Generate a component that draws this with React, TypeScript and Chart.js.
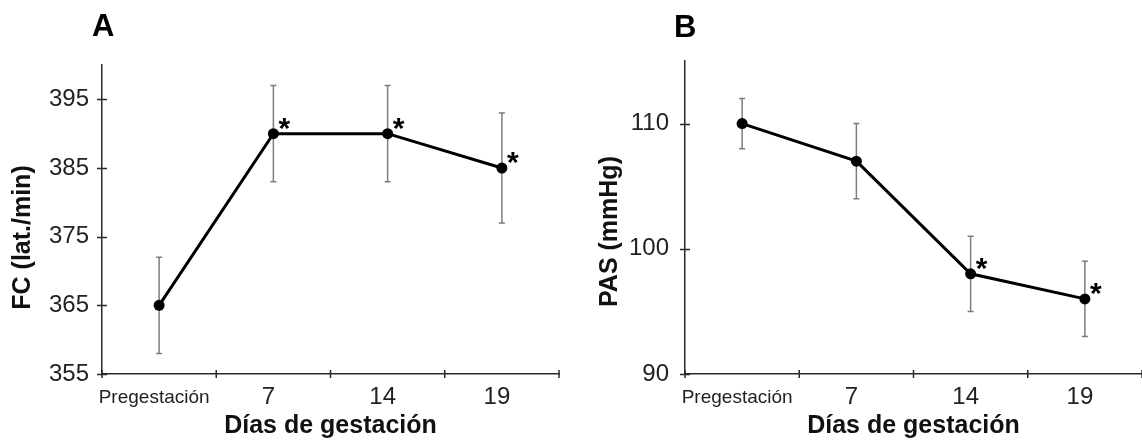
import React, { useEffect, useRef } from 'react';
import { Chart, registerables } from 'chart.js';

Chart.register(...registerables);

// ---- data ----
const categories = ['Pregestación', '7', '14', '19'];

const fcMean = [365, 390, 390, 385];
const fcErr = [7, 7, 7, 8];
const fcSig = [false, true, true, true];
const fcTicks = [355, 365, 375, 385, 395];

const pasMean = [110, 107, 98, 96];
const pasErr = [2, 3, 3, 3];
const pasSig = [false, false, true, true];
const pasTicks = [90, 100, 110];

const FONT = "'Liberation Sans', Arial, Helvetica, sans-serif";

function makeDecor(
  mean: number[],
  err: number[],
  sig: boolean[],
  yTitle: string,
  yTitleX: number,
  yTitleDy: number
) {
  return {
    id: 'decor',
    beforeDatasetsDraw(chart: any) {
      const { ctx } = chart;
      const xs = chart.scales.x;
      const ys = chart.scales.y;
      ctx.save();
      ctx.strokeStyle = '#7d7d7d';
      ctx.lineWidth = 1.5;
      mean.forEach((m, i) => {
        const px = xs.getPixelForValue(i);
        const top = ys.getPixelForValue(m + err[i]);
        const bot = ys.getPixelForValue(m - err[i]);
        ctx.beginPath();
        ctx.moveTo(px, top);
        ctx.lineTo(px, bot);
        ctx.moveTo(px - 3, top);
        ctx.lineTo(px + 3, top);
        ctx.moveTo(px - 3, bot);
        ctx.lineTo(px + 3, bot);
        ctx.stroke();
      });
      ctx.restore();
    },
    afterDraw(chart: any) {
      const { ctx, chartArea } = chart;
      const xs = chart.scales.x;
      const ys = chart.scales.y;
      ctx.save();
      // cross tick marks
      ctx.strokeStyle = '#2a2a2a';
      ctx.lineWidth = 1.5;
      ctx.beginPath();
      ys.ticks.forEach((t: any) => {
        const py = Math.round(ys.getPixelForValue(t.value)) + 0.5;
        ctx.moveTo(chartArea.left - 5, py);
        ctx.lineTo(chartArea.left + 5, py);
      });
      for (let i = 0; i <= categories.length; i++) {
        const px = xs.getPixelForValue(i - 0.5);
        ctx.moveTo(px, chartArea.bottom - 4);
        ctx.lineTo(px, chartArea.bottom + 4);
      }
      ctx.stroke();
      // significance asterisks
      ctx.fillStyle = '#000';
      ctx.font = `bold 30px ${FONT}`;
      ctx.textAlign = 'center';
      ctx.textBaseline = 'alphabetic';
      sig.forEach((s, i) => {
        if (!s) return;
        const px = xs.getPixelForValue(i);
        const py = ys.getPixelForValue(mean[i]);
        ctx.fillText('*', px + 11, py - 13 + 17);
      });
      // y-axis title
      ctx.fillStyle = '#111';
      ctx.font = `bold 25px ${FONT}`;
      ctx.textBaseline = 'middle';
      ctx.translate(yTitleX, (chartArea.top + chartArea.bottom) / 2 + yTitleDy);
      ctx.rotate(-Math.PI / 2);
      ctx.fillText(yTitle, 0, 0);
      ctx.restore();
    },
  };
}

type PanelProps = {
  left: number;
  width: number;
  mean: number[];
  err: number[];
  sig: boolean[];
  ticks: number[];
  min: number;
  max: number;
  yTitle: string;
  yWidth: number;
  yTitleX: number;
  yTitleDy: number;
  yTickPad: number;
  padTop: number;
  padRight: number;
};

function Panel(p: PanelProps) {
  const ref = useRef<HTMLCanvasElement | null>(null);
  useEffect(() => {
    if (!ref.current) return;
    const chart = new Chart(ref.current, {
      type: 'line',
      data: {
        labels: categories,
        datasets: [
          {
            data: p.mean,
            borderColor: '#000',
            borderWidth: 3,
            backgroundColor: '#000',
            pointBackgroundColor: '#000',
            pointBorderColor: '#000',
            pointBorderWidth: 0,
            pointRadius: 5.5,
            tension: 0,
          },
        ],
      },
      options: {
        animation: false,
        responsive: false,
        devicePixelRatio: 1,
        layout: {
          autoPadding: false,
          padding: { top: p.padTop, right: p.padRight, left: 0, bottom: 0 },
        },
        plugins: { legend: { display: false }, tooltip: { enabled: false } },
        scales: {
          x: {
            type: 'category',
            offset: true,
            grid: { display: false, drawTicks: false },
            border: { display: true, color: '#2a2a2a', width: 1.5 },
            ticks: {
              color: '#222',
              padding: 9,
              labelOffset: -5,
              maxRotation: 0,
              autoSkip: false,
              font: (ctx: any) =>
                ctx.index === 0
                  ? { family: FONT, size: 19, lineHeight: 1.55 }
                  : { family: FONT, size: 24, lineHeight: 1.2 },
            },
            title: {
              display: true,
              text: 'Días de gestación',
              color: '#111',
              font: { family: FONT, size: 25, weight: 'bold' },
              padding: { top: 0, bottom: 0 },
            },
            afterFit: (scale: any) => {
              scale.height = 67;
            },
          },
          y: {
            min: p.min,
            max: p.max,
            grid: { display: false, drawTicks: false },
            border: { display: true, color: '#2a2a2a', width: 1.5 },
            afterBuildTicks: (scale: any) => {
              scale.ticks = p.ticks.map((v) => ({ value: v }));
            },
            ticks: {
              color: '#222',
              padding: p.yTickPad,
              font: { family: FONT, size: 24 },
            },
            title: { display: false, text: p.yTitle },
            afterFit: (scale: any) => {
              scale.width = p.yWidth;
            },
          },
        },
      },
      plugins: [makeDecor(p.mean, p.err, p.sig, p.yTitle, p.yTitleX, p.yTitleDy)],
    } as any);
    return () => chart.destroy();
  }, []);
  return (
    <div style={{ position: 'absolute', left: p.left, top: 0, width: p.width, height: 441 }}>
      <canvas
        ref={ref}
        width={p.width}
        height={441}
        style={{ width: p.width, height: 441, display: 'block' }}
      />
    </div>
  );
}

const letterStyle: React.CSSProperties = {
  position: 'absolute',
  fontFamily: FONT,
  fontWeight: 'bold',
  fontSize: 31,
  lineHeight: '31px',
  color: '#000',
};

export default function App() {
  return (
    <div
      style={{
        position: 'absolute',
        left: 0,
        top: 0,
        width: 1142,
        height: 441,
        background: '#fff',
        overflow: 'hidden',
      }}
    >
      <Panel
        left={0}
        width={570}
        mean={fcMean}
        err={fcErr}
        sig={fcSig}
        ticks={fcTicks}
        min={355}
        max={400}
        yTitle="FC (lat./min)"
        yWidth={102}
        yTitleX={23}
        yTitleDy={18}
        yTickPad={13}
        padTop={65}
        padRight={11}
      />
      <Panel
        left={570}
        width={572}
        mean={pasMean}
        err={pasErr}
        sig={pasSig}
        ticks={pasTicks}
        min={90}
        max={115}
        yTitle="PAS (mmHg)"
        yWidth={115}
        yTitleX={40}
        yTitleDy={14}
        yTickPad={16}
        padTop={61}
        padRight={0}
      />
      <div style={{ ...letterStyle, left: 92, top: 10 }}>A</div>
      <div style={{ ...letterStyle, left: 674, top: 11 }}>B</div>
    </div>
  );
}
